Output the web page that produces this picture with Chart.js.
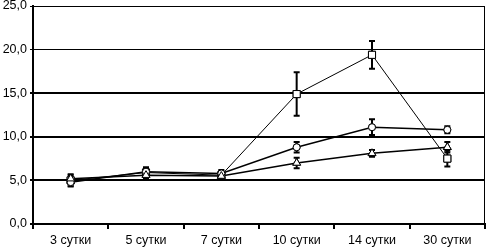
<!DOCTYPE html>
<html>
<head>
<meta charset="utf-8">
<script src="https://cdn.jsdelivr.net/npm/chart.js@4"></script>
<style>
  html, body { margin: 0; padding: 0; background: #fff; }
  #wrap { width: 491px; height: 248px; }
</style>
</head>
<body>
<div id="wrap"><canvas id="chart"></canvas></div>
<script>
const days = ["3 сутки", "5 сутки", "7 сутки", "10 сутки", "14 сутки", "30 сутки"];

const squareVals = [5.0, 5.9, 5.6, 14.9, 19.4, 7.5];
const squareErr = [0.6, 0.5, 0.4, 2.5, 1.6, 0.9];
const circleVals = [4.8, 6.0, 5.8, 8.8, 11.1, 10.8];
const circleErr = [0.5, 0.5, 0.4, 0.6, 0.9, 0.4];
const triangleVals = [5.2, 5.6, 5.5, 7.0, 8.1, 8.8];
const triangleErr = [0.5, 0.4, 0.4, 0.6, 0.4, 0.6];

const yTicks = [0, 5, 10, 15, 20, 25];

// error bars drawn through the y scale
const errorBars = {
  id: "errorBars",
  afterDatasetsDraw(chart) {
    const { ctx, scales } = chart;
    ctx.save();
    ctx.strokeStyle = "#000";
    ctx.lineWidth = 2;
    chart.data.datasets.forEach((ds, i) => {
      const meta = chart.getDatasetMeta(i);
      meta.data.forEach((pt, j) => {
        const e = ds.errors[j];
        const top = scales.y.getPixelForValue(ds.data[j] + e);
        const bot = scales.y.getPixelForValue(ds.data[j] - e);
        ctx.beginPath();
        ctx.moveTo(pt.x, top); ctx.lineTo(pt.x, bot);
        ctx.moveTo(pt.x - 3, top); ctx.lineTo(pt.x + 3, top);
        ctx.moveTo(pt.x - 3, bot); ctx.lineTo(pt.x + 3, bot);
        ctx.stroke();
      });
    });
    ctx.restore();
    // redraw points on top
    chart.data.datasets.forEach((ds, i) => {
      chart.getDatasetMeta(i).data.forEach((pt) => pt.draw(ctx, chart.chartArea));
    });
  },
  afterDraw(chart) {
    const { ctx, chartArea } = chart;
    ctx.save();
    ctx.strokeStyle = "#000";
    ctx.lineWidth = 1;
    ctx.beginPath();
    ctx.moveTo(chartArea.right - 0.5, chartArea.top);
    ctx.lineTo(chartArea.right - 0.5, chartArea.bottom);
    ctx.stroke();
    ctx.restore();
  },
};

function series(data, errors, style, radius, width) {
  return {
    data: data,
    errors: errors,
    borderColor: "#000",
    borderWidth: width,
    pointStyle: style,
    pointRadius: radius,
    pointBackgroundColor: "#fff",
    pointBorderColor: "#000",
    pointBorderWidth: 1,
    tension: 0,
  };
}

const tickFont = { family: "Liberation Sans", size: 12.5 };

new Chart(document.getElementById("chart"), {
  type: "line",
  data: {
    labels: days,
    datasets: [
      series(squareVals, squareErr, "rect", 5, 1),
      series(circleVals, circleErr, "circle", 3.5, 1.5),
      series(triangleVals, triangleErr, "triangle", 4.5, 1.5),
    ],
  },
  options: {
    responsive: true,
    maintainAspectRatio: false,
    animation: false,
    layout: { padding: { top: 0, right: 2, left: 0, bottom: 0 } },
    plugins: { legend: { display: false }, tooltip: { enabled: false } },
    scales: {
      x: {
        offset: true,
        grid: {
          offset: true,
          drawOnChartArea: false,
          drawTicks: true,
          tickLength: 5,
          color: "#000",
          lineWidth: 2,
        },
        border: { color: "#000", width: 2 },
        ticks: { color: "#000", font: tickFont, padding: 4, maxRotation: 0 },
        afterFit(axis) { axis.height = 24; axis.paddingLeft = 0; axis.paddingRight = 0; },
      },
      y: {
        min: 0,
        max: 25,
        afterBuildTicks(axis) { axis.ticks = yTicks.map((v) => ({ value: v })); },
        grid: {
          color: "#000",
          lineWidth: (c) => (c.tick && c.tick.value >= 20 ? 1 : 2),
          tickLength: 3,
        },
        border: { color: "#000", width: 2 },
        ticks: {
          color: "#000",
          font: tickFont,
          padding: 3,
          callback: (v) => v.toFixed(1).replace(".", ","),
        },
        afterFit(axis) { axis.width = 33; axis.paddingTop = 5; axis.paddingBottom = 0; },
      },
    },
  },
  plugins: [errorBars],
});
</script>
</body>
</html>
